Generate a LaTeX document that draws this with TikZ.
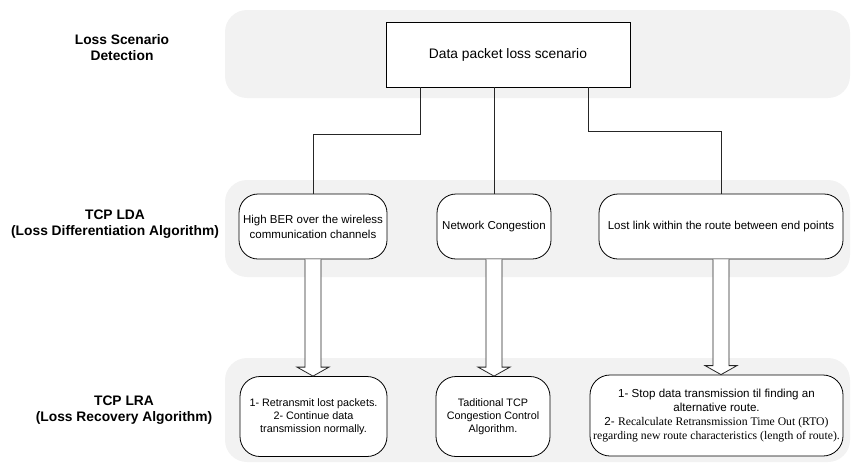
\documentclass[tikz,border=0pt]{standalone}
\usepackage{fontspec}
\setmainfont{Liberation Sans}
\newfontfamily\serifA{Liberation Serif}
\usetikzlibrary{calc}
\definecolor{bandgray}{HTML}{F2F2F2}
\begin{document}
\begin{tikzpicture}[x=1pt,y=-1pt,
  band/.style={fill=bandgray,draw=none,rounded corners=22pt},
  layerlabel/.style={align=center,font=\bfseries\fontsize{13.8}{16}\selectfont,inner sep=0pt},
  topbox/.style={draw=black,line width=0.8pt,fill=white,minimum width=244pt,minimum height=65pt,inner sep=0pt,font=\fontsize{13.8}{16}\selectfont},
  ldabox/.style={draw=black,line width=0.8pt,fill=white,rounded corners=19pt,minimum height=65pt,inner sep=0pt,align=center,font=\fontsize{11.5}{15}\selectfont},
  lrabox/.style={draw=black,line width=0.8pt,fill=white,rounded corners=20pt,minimum height=80pt,inner sep=0pt,align=center,font=\fontsize{10.8}{13.2}\selectfont},
  conn/.style={draw=black!85,line width=0.8pt},
  fatarrow/.style={draw=black!85,line width=0.8pt,fill=white,line join=miter}
]
\useasboundingbox (0,0) rectangle (852,464);
% bands
\fill[band] (225,10) rectangle (850,98);
\fill[band] (225,180) rectangle (850,277);
\fill[band] (225,358) rectangle (850,462);
% layer labels
\node[layerlabel] (l1) at (122,48) {Loss Scenario\\Detection};
\node[layerlabel] (l2) at (115,224) {TCP LDA\\(Loss Differentiation Algorithm)};
\node[layerlabel] (l3) at (124,410) {TCP LRA\\(Loss Recovery Algorithm)};
% boxes
\node[topbox] (top) at (508,54.5) {Data packet loss scenario};
\node[ldabox,minimum width=148pt] (hA) at (313,226.5) {High BER over the wireless\\communication channels};
\node[ldabox,minimum width=114pt] (hB) at (494,226.5) {Network Congestion};
\node[ldabox,minimum width=244pt] (hC) at (721,226.5) {Lost link within the route between end points};
\node[lrabox,minimum width=147pt] (rA) at (313.5,416.5) {1- Retransmit lost packets.\\2- Continue data\\transmission normally.};
\node[lrabox,minimum width=114pt] (rB) at (493,416.5) {Taditional TCP\\Congestion Control\\Algorithm.};
\node[lrabox,minimum width=253pt,minimum height=81pt,font=\fontsize{11.6}{14}\selectfont] (rC) at (716.5,415.5)
  {1- Stop data transmission til finding an\\alternative route.\\2- {\serifA\fontsize{11.7}{14}\selectfont Recalculate Retransmission Time Out (RTO)}\\
   {\serifA\fontsize{11.7}{14}\selectfont regarding new route characteristics (length of route).}};
% tree connectors
\draw[conn] ([xshift=35pt]top.south west) -- ++(0,47) -| (hA.north);
\draw[conn] (hB.north |- top.south) -- (hB.north);
\draw[conn] ([xshift=-42pt]top.south east) -- ++(0,44) -| (hC.north);
% fat arrows
\foreach \s/\t in {hA/rA,hB/rB,hC/rC}{
  \draw[fatarrow] let \p1=(\s.south), \p2=(\t.north) in
    (\x1-8pt,\y1) -- (\x1-8pt,\y2+9pt) -- (\x1-16pt,\y2+9pt) -- (\x1,\y2)
    -- (\x1+16pt,\y2+9pt) -- (\x1+8pt,\y2+9pt) -- (\x1+8pt,\y1);
}
\end{tikzpicture}
\end{document}
